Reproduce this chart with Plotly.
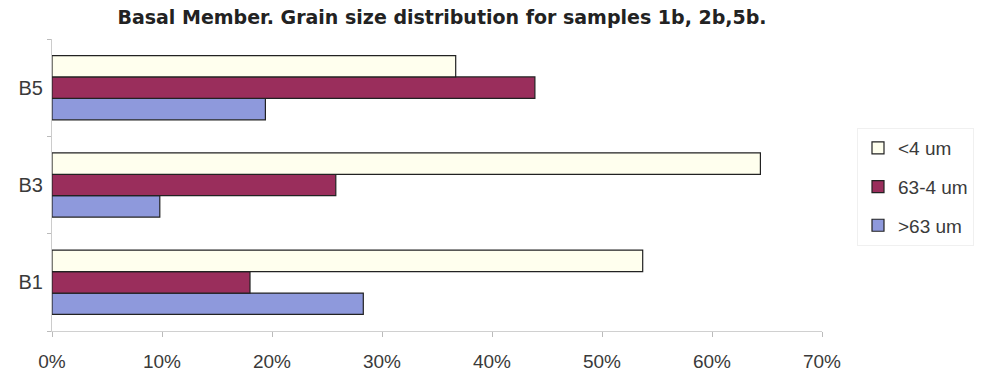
import plotly.graph_objects as go

categories = ["B1", "B3", "B5"]
series_names = [">63 um", "63-4 um", "<4 um"]
coarse = [28.3, 9.8, 19.4]     # >63 um
medium = [18.0, 25.8, 43.9]    # 63-4 um
fine = [53.7, 64.4, 36.7]      # <4 um
x_ticks = [0, 10, 20, 30, 40, 50, 60, 70]
x_tick_labels = ["0%", "10%", "20%", "30%", "40%", "50%", "60%", "70%"]

colors = ["#8E99DC", "#9A2E5C", "#FFFFEE"]
values = [coarse, medium, fine]

fig = go.Figure()
for i, (name, vals, col) in enumerate(zip(series_names, values, colors)):
    fig.add_trace(go.Bar(
        y=categories, x=vals, name=name, orientation="h",
        legendgroup=f"g{i}", legendrank=100 - i,
        marker=dict(color=col, line=dict(color="#222222", width=1.2)),
    ))

FONT = "Liberation Sans, Arial, sans-serif"
fig.update_layout(
    width=983, height=373,
    margin=dict(l=52, r=161, t=39, b=42),
    paper_bgcolor="white", plot_bgcolor="white",
    barmode="group", bargap=0.34, bargroupgap=0,
    showlegend=True,
    font=dict(family=FONT, size=19, color="#3a3a3a"),
    title=dict(
        text="<b>Basal Member. Grain size distribution for samples 1b, 2b,5b.</b>",
        x=442 / 983, xanchor="center", y=1 - 17 / 373, yanchor="middle",
        font=dict(family="DejaVu Sans, sans-serif", size=19, color="#222222"),
    ),
    legend=dict(
        traceorder="grouped", tracegroupgap=11,
        x=857 / 983, xanchor="left", y=1 - 128 / 373, yanchor="top",
        xref="container", yref="container",
        font=dict(family=FONT, size=19, color="#3a3a3a"),
        bordercolor="#f0f0f0", borderwidth=1,
        itemwidth=30,
    ),
)
fig.update_xaxes(
    range=[0, 70], tickvals=x_ticks, ticktext=x_tick_labels,
    showgrid=False, zeroline=False, automargin=False,
    showline=True, linecolor="#d0d0d0", linewidth=1,
    ticks="outside", ticklen=5, tickcolor="#bbbbbb",
    ticklabelstandoff=8,
    tickfont=dict(family=FONT, size=19, color="#3a3a3a"),
)
fig.update_yaxes(
    showgrid=False, zeroline=False, automargin=False,
    showline=True, linecolor="#cccccc", linewidth=1,
    ticks="outside", ticklen=4, tickcolor="#bbbbbb", tickson="boundaries",
    ticklabelstandoff=4,
    tickfont=dict(family=FONT, size=20, color="#3a3a3a"),
)
fig.write_html("out.html")
